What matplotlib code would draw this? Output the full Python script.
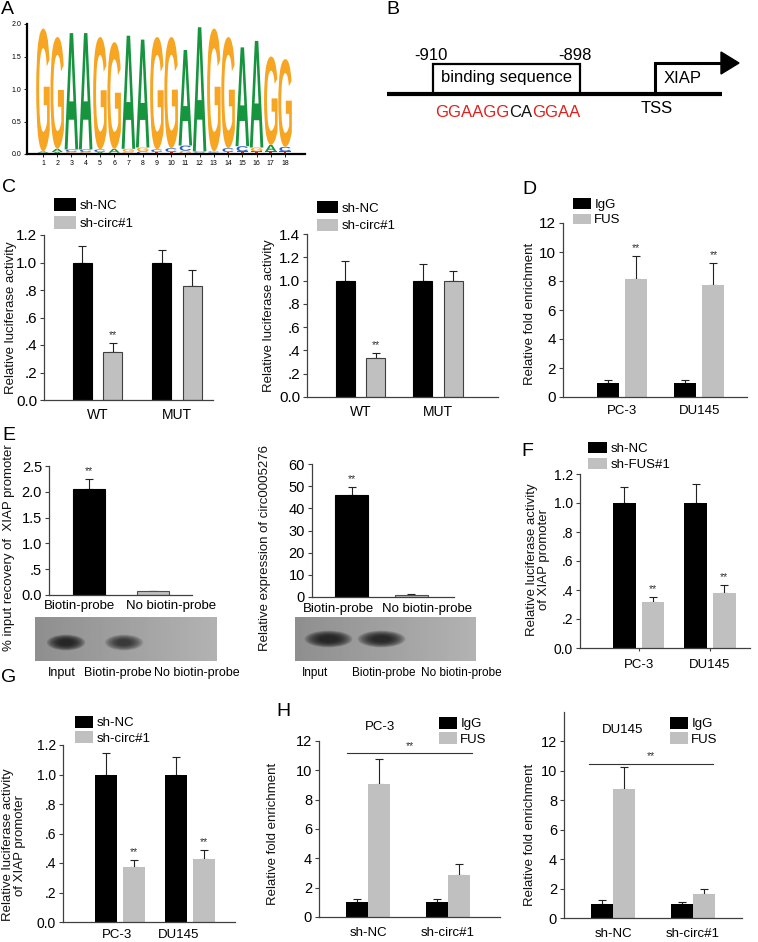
import numpy as np
import matplotlib
matplotlib.use('Agg')
import matplotlib.pyplot as plt
from matplotlib.patches import Patch, Ellipse, PathPatch, Polygon, Rectangle
from matplotlib.textpath import TextPath
from matplotlib.font_manager import FontProperties
import matplotlib.transforms as mtransforms

plt.rcParams['font.family'] = ['Liberation Sans', 'DejaVu Sans']

# ---------------- data ----------------
# Panel A: sequence logo
logo_main = list("GGAAGGAAGGAAGGAAGG")
logo_top = [1.93, 1.80, 1.86, 1.86, 1.80, 1.72, 1.82, 1.76, 1.80,
            1.80, 1.60, 1.95, 1.93, 1.80, 1.64, 1.74, 1.50, 1.46]
logo_minor1 = list("CAGGATGCTTGGATTTTT")
logo_minor1_h = [0.02, 0.03, 0.03, 0.03, 0.03, 0.02, 0.03, 0.04, 0.03,
                 0.03, 0.05, 0.02, 0.02, 0.03, 0.04, 0.04, 0.04, 0.04]
logo_minor2 = list("AACCCAGGCCCCCCCGAC")
logo_minor2_h = [0.02, 0.05, 0.04, 0.04, 0.04, 0.06, 0.05, 0.06, 0.04,
                 0.06, 0.08, 0.02, 0.02, 0.06, 0.08, 0.06, 0.10, 0.07]
logo_positions = list(range(1, 19))

# Panel B: promoter diagram text
b_start, b_end = "-910", "-898"
b_seq_parts = ["GGAAGG", "CA", "GGAA"]
b_seq_colors = ["#e0201c", "#111111", "#e0201c"]

# Panel C
c_groups = ["WT", "MUT"]
c1_nc, c1_nc_err = [1.0, 1.0], [0.117, 0.088]
c1_circ, c1_circ_err = [0.35, 0.832], [0.066, 0.115]
c2_nc, c2_nc_err = [1.0, 1.0], [0.165, 0.142]
c2_circ, c2_circ_err = [0.333, 1.0], [0.045, 0.078]
c_circ_sig = ["**", ""]

# Panel D
cell_groups = ["PC-3", "DU145"]
d_igg, d_igg_err = [1.0, 1.0], [0.15, 0.2]
d_fus, d_fus_err = [8.12, 7.75], [1.6, 1.52]
d_fus_sig = ["**", "**"]

# Panel E
e_groups = ["Biotin-probe", "No biotin-probe"]
e1_vals, e1_err = [2.06, 0.07], [0.19, 0.01]
e2_vals, e2_err = [46.0, 1.0], [3.8, 0.2]
e_sig = ["**", ""]
blot_lanes = ["Input", "Biotin-probe", "No biotin-probe"]
blot1_intensity = [1.0, 0.7, 0.0]
blot2_intensity = [1.0, 0.95, 0.0]

# Panel F
f_nc, f_nc_err = [1.0, 1.0], [0.11, 0.13]
f_fus, f_fus_err = [0.32, 0.38], [0.035, 0.055]
f_sig = ["**", "**"]

# Panel G
g_nc, g_nc_err = [1.0, 1.0], [0.145, 0.12]
g_circ, g_circ_err = [0.375, 0.425], [0.045, 0.065]
g_sig = ["**", "**"]

# Panel H
h_groups = ["sh-NC", "sh-circ#1"]
h1_igg, h1_igg_err = [1.0, 1.0], [0.2, 0.2]
h1_fus, h1_fus_err = [9.1, 2.86], [1.7, 0.73]
h2_igg, h2_igg_err = [0.95, 0.92], [0.27, 0.2]
h2_fus, h2_fus_err = [8.77, 1.65], [1.47, 0.32]
h1_sig_level, h2_sig_level = 11.2, 10.5

lucif_ticks = [0, 0.2, 0.4, 0.6, 0.8, 1.0, 1.2, 1.4]
lucif_labels = ["0.0", ".2", ".4", ".6", ".8", "1.0", "1.2", "1.4"]

BLACK = "#000000"
GRAY = "#c0c0c0"
AXC = "#404040"

# ---------------- helpers ----------------
W, H = 758, 942
fig = plt.figure(figsize=(W / 100, H / 100), dpi=100)


def add_ax(x0, y0, x1, y1):
    return fig.add_axes([x0 / W, 1 - y1 / H, (x1 - x0) / W, (y1 - y0) / H])


def ftext(x, y, s, **kw):
    return fig.text(x / W, 1 - y / H, s, **kw)


def vlabel(text, x, y, size=9.5, ls=1.05):
    ftext(x, y, text, rotation=90, ha='center', va='center', fontsize=size,
          linespacing=ls, multialignment='center', color='#111111')


def panel_label(s, x, y):
    ftext(x, y, s, ha='left', va='center', fontsize=14)


def style_ax(ax, tick_size=10, xlab_size=9.5, xpad=6, xtick_len=0):
    for s in ['top', 'right']:
        ax.spines[s].set_visible(False)
    for s in ['left', 'bottom']:
        ax.spines[s].set_color(AXC)
        ax.spines[s].set_linewidth(0.9)
    ax.tick_params(axis='y', direction='out', length=3, width=0.8, color=AXC,
                   labelsize=tick_size, pad=2)
    ax.tick_params(axis='x', direction='out', length=xtick_len, width=0.8, color=AXC,
                   labelsize=xlab_size, pad=xpad)


def grouped(ax, series, width, offsets, colors, edges):
    for (vals, errs), off, c, e in zip(series, offsets, colors, edges):
        x = np.arange(len(vals)) + off
        ax.bar(x, vals, width=width, color=c, edgecolor=e,
               linewidth=0.8 if e != 'none' else 0, zorder=2)
        ax.errorbar(x, vals, yerr=[np.zeros(len(vals)), errs], fmt='none',
                    ecolor='#222222', elinewidth=0.8, capsize=3, capthick=0.8, zorder=1)


def stars(ax, xs, vals, errs, labels, size=7.5):
    for x, v, e, l in zip(xs, vals, errs, labels):
        if l:
            ax.annotate(l, (x, v + e), xytext=(0, 2), textcoords='offset points',
                        ha='center', va='bottom', fontsize=size, color='#333333')


def legend_px(labels, colors, x, y, hw, hh, size=9.5, spacing=0.25):
    fs = size * 100 / 72
    handles = [Patch(facecolor=c, edgecolor='none') for c in colors]
    fig.legend(handles, labels, loc='upper left', bbox_to_anchor=(x / W, 1 - y / H),
               bbox_transform=fig.transFigure, frameon=False, fontsize=size,
               handlelength=hw / fs, handleheight=hh / fs, handletextpad=0.25,
               labelspacing=spacing, borderpad=0, borderaxespad=0)


# ---------------- Panel A: logo ----------------
LOGO_COLORS = {'G': '#f6a623', 'A': '#16943e', 'C': '#2a62c4', 'T': '#e3231e'}
fp_logo = FontProperties(family='Liberation Sans', weight='bold')


def draw_letter(ax, ch, xc, y0, w, h):
    if h <= 0:
        return
    tp = TextPath((0, 0), ch, size=1, prop=fp_logo)
    bb = tp.get_extents()
    t = (mtransforms.Affine2D().translate(-bb.x0, -bb.y0)
         .scale(w / bb.width, h / bb.height).translate(xc - w / 2, y0))
    ax.add_patch(PathPatch(t.transform_path(tp), fc=LOGO_COLORS[ch], ec='none'))


axA = add_ax(27, 24, 305, 154)
for i, pos in enumerate(logo_positions):
    y = 0.0
    for ch, h in ((logo_minor1[i], logo_minor1_h[i]), (logo_minor2[i], logo_minor2_h[i])):
        draw_letter(axA, ch, pos, y, 0.8, h)
        y += h
    draw_letter(axA, logo_main[i], pos, y, 0.95, logo_top[i] - y)
axA.set_xlim(-0.12, 19.4)
axA.set_ylim(0, 2.0)
for s in ['top', 'right']:
    axA.spines[s].set_visible(False)
for s in ['left', 'bottom']:
    axA.spines[s].set_linewidth(1.6)
axA.set_xticks(logo_positions)
axA.set_xticklabels([str(p) for p in logo_positions])
axA.set_yticks([0, 0.5, 1.0, 1.5, 2.0])
axA.set_yticklabels(["0.0", "0.5", "1.0", "1.5", "2.0"])
axA.tick_params(labelsize=5, length=2, width=0.6, pad=2)
panel_label("A", 1, 9)

# ---------------- Panel B: diagram ----------------
axB = add_ax(380, 0, 758, 180)
axB.set_xlim(380, 758)
axB.set_ylim(180, 0)
axB.axis('off')
line_y, box_l, box_r, box_t = 94, 433, 580, 64
tss_x, arrow_y, arrow_end = 655, 63, 723
axB.plot([387, 722], [line_y, line_y], color='black', lw=3, solid_capstyle='butt')
axB.add_patch(Rectangle((box_l, box_t), box_r - box_l, line_y - box_t, fill=False,
                        ec='black', lw=1.6))
axB.plot([tss_x, tss_x, arrow_end], [line_y, arrow_y, arrow_y], color='black', lw=2.2,
         solid_joinstyle='miter')
axB.add_patch(Polygon([[arrow_end - 2, arrow_y - 11], [arrow_end - 2, arrow_y + 11],
                       [arrow_end + 16, arrow_y]], closed=True, fc='black', ec='black'))
axB.text(box_l - 2, 60, b_start, ha='center', va='baseline', fontsize=12)
axB.text(box_r - 5, 60, b_end, ha='center', va='baseline', fontsize=12)
axB.text((box_l + box_r) / 2, 82, "binding sequence", ha='center', va='baseline', fontsize=12)
axB.text(683, 83, "XIAP", ha='center', va='baseline', fontsize=12)
axB.text(657, 113, "TSS", ha='center', va='baseline', fontsize=12)
prev = axB.text(435, 117, b_seq_parts[0], ha='left', va='baseline', fontsize=12,
                color=b_seq_colors[0])
for part, col in zip(b_seq_parts[1:], b_seq_colors[1:]):
    prev = axB.annotate(part, xy=(1, 0), xycoords=prev, ha='left', va='bottom',
                        fontsize=12, color=col)
panel_label("B", 386, 9)

# ---------------- Panel C ----------------
axC1 = add_ax(44, 235, 213, 400)
grouped(axC1, [(c1_nc, c1_nc_err), (c1_circ, c1_circ_err)], 0.24, [-0.19, 0.19],
        [BLACK, GRAY], [BLACK, '#404040'])
stars(axC1, np.arange(2) + 0.19, c1_circ, c1_circ_err, c_circ_sig)
axC1.set_xlim(-0.673, 1.453)
axC1.set_ylim(0, 1.2)
axC1.set_yticks(lucif_ticks[:7])
axC1.set_yticklabels(lucif_labels[:7])
axC1.set_xticks([0, 1])
axC1.set_xticklabels(c_groups)
style_ax(axC1, tick_size=11, xlab_size=10)
vlabel("Relative luciferase activity", 11, 318)
legend_px(["sh-NC", "sh-circ#1"], [BLACK, GRAY], 54, 198, 22, 15, size=9.5, spacing=0.3)

axC2 = add_ax(307, 234, 498, 397)
grouped(axC2, [(c2_nc, c2_nc_err), (c2_circ, c2_circ_err)], 0.245, [-0.197, 0.197],
        [BLACK, GRAY], [BLACK, '#404040'])
stars(axC2, np.arange(2) + 0.197, c2_circ, c2_circ_err, c_circ_sig)
axC2.set_xlim(-0.69, 1.774)
axC2.set_ylim(0, 1.4)
axC2.set_yticks(lucif_ticks)
axC2.set_yticklabels(lucif_labels)
axC2.set_xticks([0, 1])
axC2.set_xticklabels(c_groups)
style_ax(axC2, tick_size=11, xlab_size=10)
vlabel("Relative luciferase activity", 269, 316)
legend_px(["sh-NC", "sh-circ#1"], [BLACK, GRAY], 317, 201, 21, 14, size=9.5, spacing=0.3)
panel_label("C", 2, 188)

# ---------------- Panel D ----------------
axD = add_ax(563, 223, 747, 397)
grouped(axD, [(d_igg, d_igg_err), (d_fus, d_fus_err)], 0.286, [-0.185, 0.185],
        [BLACK, GRAY], ['none', 'none'])
stars(axD, np.arange(2) + 0.185, d_fus, d_fus_err, d_fus_sig)
axD.set_xlim(-0.766, 1.62)
axD.set_ylim(0, 12)
axD.set_yticks(range(0, 13, 2))
axD.set_xticks([0, 1])
axD.set_xticklabels(cell_groups)
style_ax(axD, tick_size=11, xlab_size=9.5)
vlabel("Relative fold enrichment", 530, 314)
legend_px(["IgG", "FUS"], [BLACK, GRAY], 573, 198, 18, 11.5, size=9.5, spacing=0.2)
panel_label("D", 522, 190)

# ---------------- Panel E ----------------
axE1 = add_ax(49, 466, 192, 595)
grouped(axE1, [(e1_vals, e1_err)], 0.5, [0.0], [BLACK], [BLACK])
axE1.patches[1].set_facecolor(GRAY)
axE1.patches[1].set_edgecolor('#505050')
stars(axE1, np.arange(2), e1_vals, e1_err, e_sig)
axE1.set_xlim(-0.62, 1.6)
axE1.set_ylim(0, 2.5)
axE1.set_yticks([0, 0.5, 1.0, 1.5, 2.0, 2.5])
axE1.set_yticklabels(["0.0", ".5", "1.0", "1.5", "2.0", "2.5"])
axE1.set_xticks([-0.14, 1.27])
axE1.set_xticklabels(e_groups)
style_ax(axE1, tick_size=10.5, xlab_size=9.5, xpad=3.5)
vlabel("% input recovery of  XIAP promoter", 9, 548)

axE2 = add_ax(312, 464, 454, 597)
grouped(axE2, [(e2_vals, e2_err)], 0.55, [0.0], [BLACK], [BLACK])
axE2.patches[1].set_facecolor(GRAY)
axE2.patches[1].set_edgecolor('#505050')
stars(axE2, np.arange(2), e2_vals, e2_err, e_sig)
axE2.set_xlim(-0.66, 1.71)
axE2.set_ylim(0, 60)
axE2.set_yticks(range(0, 61, 10))
axE2.set_xticks([-0.22, 1.26])
axE2.set_xticklabels(e_groups)
style_ax(axE2, tick_size=10.5, xlab_size=9.5, xpad=4)
vlabel("Relative expression of circ0005276", 265, 548)
panel_label("E", 2, 435)


def blot(ax, intensities, xlim, band_w, band_h, yc, label_pos, lab_size):
    ax.set_xlim(*xlim)
    ax.set_ylim(0, 1)
    grad = np.linspace(0.56, 0.70, 64)[None, :]
    ax.imshow(grad, cmap='gray', vmin=0, vmax=1, aspect='auto',
              extent=[xlim[0], xlim[1], 0, 1], zorder=0)
    for i, inten in enumerate(intensities):
        if inten <= 0:
            continue
        for k in range(10):
            f = 1 - k * 0.07
            ax.add_patch(Ellipse((i, yc), band_w * f, band_h * f, fc='#141414', ec='none',
                                 alpha=0.17 * inten, zorder=1))
    for s in ax.spines.values():
        s.set_visible(False)
    ax.set_yticks([])
    ax.set_xticks(label_pos)
    ax.set_xticklabels(blot_lanes)
    ax.tick_params(axis='x', length=0, labelsize=lab_size, pad=4)


axB1 = add_ax(35, 617, 217, 661)
blot(axB1, blot1_intensity, (-0.534, 2.6), 0.66, 0.36, 0.42, [-0.07, 0.9, 2.26], 9)
axB2 = add_ax(295, 617, 476, 661)
blot(axB2, blot2_intensity, (-0.632, 2.783), 0.9, 0.38, 0.5, [-0.25, 1.05, 2.5], 8.5)

# ---------------- Panel F ----------------
axF = add_ax(580, 474, 750, 648)
grouped(axF, [(f_nc, f_nc_err), (f_fus, f_fus_err)], 0.315, [-0.2, 0.2],
        [BLACK, GRAY], ['none', 'none'])
stars(axF, np.arange(2) + 0.2, f_fus, f_fus_err, f_sig)
axF.set_xlim(-0.82, 1.56)
axF.set_ylim(0, 1.2)
axF.set_yticks(lucif_ticks[:7])
axF.set_yticklabels(lucif_labels[:7])
axF.set_xticks([0, 1])
axF.set_xticklabels(cell_groups)
style_ax(axF, tick_size=10, xlab_size=9.5, xtick_len=2)
vlabel("Relative luciferase activity\nof XIAP promoter", 538, 560)
legend_px(["sh-NC", "sh-FUS#1"], [BLACK, GRAY], 588, 442, 19, 12, size=9.5, spacing=0.2)
panel_label("F", 521, 452)

# ---------------- Panel G ----------------
axG = add_ax(63, 745, 235, 922)
grouped(axG, [(g_nc, g_nc_err), (g_circ, g_circ_err)], 0.314, [-0.2, 0.2],
        [BLACK, GRAY], ['none', 'none'])
stars(axG, np.arange(2) + 0.2, g_circ, g_circ_err, g_sig)
axG.set_xlim(-0.814, 1.643)
axG.set_ylim(0, 1.2)
axG.set_yticks(lucif_ticks[:7])
axG.set_yticklabels(lucif_labels[:7])
axG.set_xticks([-0.04, 0.84])
axG.set_xticklabels(cell_groups)
style_ax(axG, tick_size=10, xlab_size=9.5, xpad=5)
vlabel("Relative luciferase activity\nof XIAP promoter", 14, 845)
legend_px(["sh-NC", "sh-circ#1"], [BLACK, GRAY], 75, 716, 18, 13, size=9.5, spacing=0.15)
panel_label("G", 1, 678)

# ---------------- Panel H ----------------
def h_panel(ax, igg, igg_err, fus, fus_err, sig_level, sig_span, ylim_top, title, title_xy):
    grouped(ax, [(igg, igg_err), (fus, fus_err)], 0.275, [-0.1375, 0.1375],
            [BLACK, GRAY], ['none', 'none'])
    ax.plot(sig_span, [sig_level, sig_level], color='#333333', lw=0.8)
    ax.annotate("**", (np.mean(sig_span), sig_level), xytext=(0, 1.5),
                textcoords='offset points', ha='center', va='bottom', fontsize=7.5,
                color='#333333')
    ax.set_xlim(-0.6125, 1.65)
    ax.set_ylim(0, ylim_top)
    ax.set_yticks(range(0, 13, 2))
    ax.set_xticks([0, 1])
    ax.set_xticklabels(h_groups)
    style_ax(ax, tick_size=10.5, xlab_size=9.5, xpad=7)
    ax.text(title_xy[0], title_xy[1], title, transform=ax.transAxes, ha='center',
            va='center', fontsize=9.5)


axH1 = add_ax(319, 741, 500, 917)
h_panel(axH1, h1_igg, h1_igg_err, h1_fus, h1_fus_err, h1_sig_level, [-0.26, 1.3], 12,
        "PC-3", (0.337, 1.08))
vlabel("Relative fold enrichment", 273, 834)
legend_px(["IgG", "FUS"], [BLACK, GRAY], 439, 717, 18, 13, size=9.5, spacing=0.15)

axH2 = add_ax(564, 712, 742, 918)
h_panel(axH2, h2_igg, h2_igg_err, h2_fus, h2_fus_err, h2_sig_level, [-0.3, 1.25], 14,
        "DU145", (0.33, 0.913))
axH2.set_xlim(-0.6125, 1.6125)
vlabel("Relative fold enrichment", 530, 835)
legend_px(["IgG", "FUS"], [BLACK, GRAY], 670, 717, 18, 13, size=9.5, spacing=0.15)
panel_label("H", 276, 711)

fig.savefig("out.png", dpi=100)
